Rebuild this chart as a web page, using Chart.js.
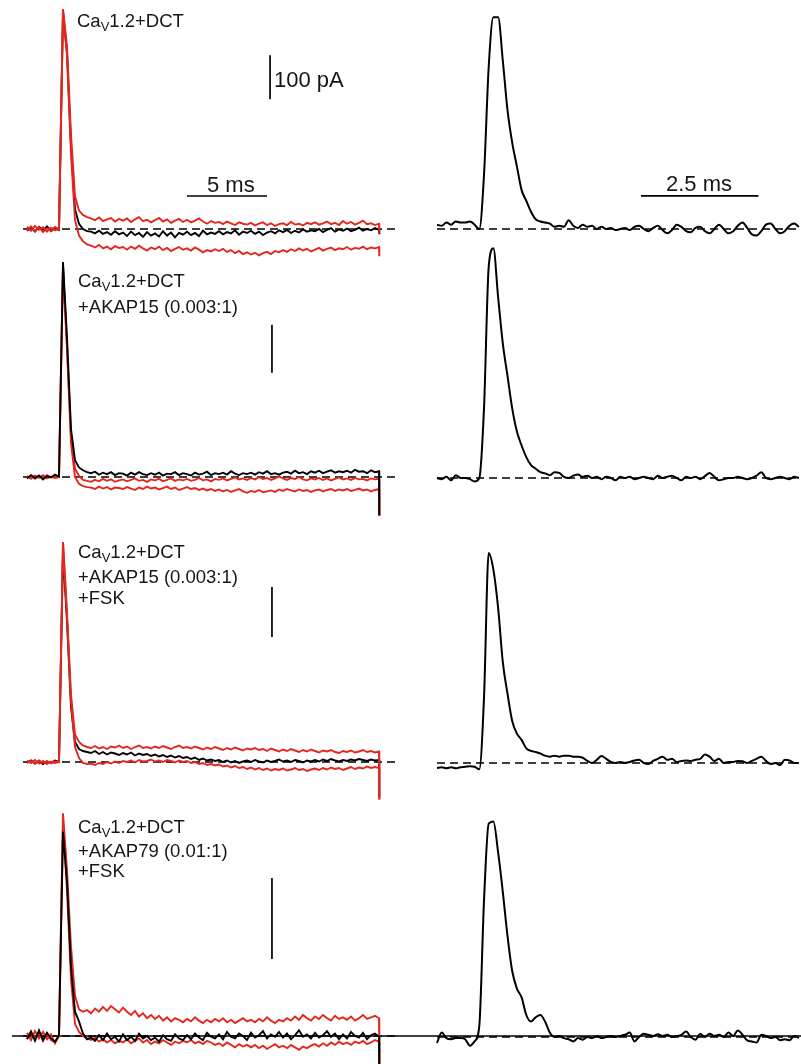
<!DOCTYPE html>
<html>
<head>
<meta charset="utf-8">
<script src="https://cdn.jsdelivr.net/npm/chart.js"></script>
<style>
  html, body { margin: 0; padding: 0; background: #fff; }
  #wrap { position: relative; width: 801px; height: 1064px; overflow: hidden; }
  #c { position: absolute; left: 0; top: 0; }
  .lab { position: absolute; font-family: "Liberation Sans", Arial, sans-serif; font-size: 18.5px; line-height: 18px; color: #161616; white-space: nowrap; }
  .lab sub { font-size: 13px; vertical-align: -4px; line-height: 0; }
  .sc { font-size: 22px; line-height: 21px; }
</style>
</head>
<body>
<div id="wrap">
  <canvas id="c" width="801" height="1064"></canvas>
  <div class="lab" style="left:77px;top:11.5px">Ca<sub>V</sub>1.2+DCT</div>
  <div class="lab sc" style="left:274px;top:68.5px">100 pA</div>
  <div class="lab sc" style="left:207px;top:173.5px">5 ms</div>
  <div class="lab sc" style="left:666px;top:172.5px">2.5 ms</div>

  <div class="lab" style="left:78px;top:272px">Ca<sub>V</sub>1.2+DCT</div>
  <div class="lab" style="left:78px;top:297.5px">+AKAP15 (0.003:1)</div>

  <div class="lab" style="left:78px;top:543px">Ca<sub>V</sub>1.2+DCT</div>
  <div class="lab" style="left:78px;top:568px">+AKAP15 (0.003:1)</div>
  <div class="lab" style="left:78px;top:589px">+FSK</div>

  <div class="lab" style="left:78px;top:818px">Ca<sub>V</sub>1.2+DCT</div>
  <div class="lab" style="left:78px;top:841.5px">+AKAP79 (0.01:1)</div>
  <div class="lab" style="left:78px;top:862px">+FSK</div>
</div>
<script>
// ---------------- DATA ----------------
// Left panels: sampled every 0.25 ms from 0 to 22 ms, last sample = tail at end of pulse (22.02 ms)
const tLeft = [];
for (let i = 0; i <= 88; i++) tLeft.push(i * 0.25);
tLeft.push(22.02);
// Right panels: sampled every 0.1 ms from 0 to 7.7 ms
const tRight = [];
for (let i = 0; i <= 77; i++) tRight.push(Math.round(i * 10) / 100);

// Row 1: CaV1.2+DCT  (pA)
const row1Black = [-4,3,-6,5,-3,6,-5,2, -2, 495,400,190,45,12,0,-5,
  -6,-10,-4,-11,-7,-13,-5,-12, -8,-16,-6,-14,-9,-18,-7,-15, -10,-17,-5,-15,-8,-19,-9,-13,
  -6,-14,-9,-16,-4,-12,-8,-11, -5,-12,-7,-10,-3,-13,-6,-9, -4,-11,-6,-14,-8,-5,-10,-3,
  -7,-2,-9,-4,-8,-1,-6,-3, -5,0,-7,-2,2,-6,-1,-4, 1,-5,-2,3,-4,0,-3,2,-2, -12];
const row1RedA = [5,-4,7,-2,4,-6,3,-3, 0, 500,415,215,75,42,32,27,
  24,20,26,18,22,25,17,23, 19,24,16,22,27,18,21,15, 20,25,17,22,14,19,23,16,
  21,15,19,24,17,12,18,14, 16,11,17,13,9,15,12,10, 14,8,12,15,9,13,7,11,
  13,9,16,10,12,8,14,11, 15,10,13,17,11,14,9,18, 12,16,10,14,19,11,13,9,12, -10];
const row1RedB = [-3,6,-5,4,-7,2,-4,5, 0, 490,395,170,20,-15,-28,-35,
  -38,-42,-36,-44,-40,-46,-39,-43, -41,-47,-40,-45,-38,-44,-49,-42, -46,-40,-48,-43,-50,-45,-41,-47,
  -44,-49,-42,-47,-53,-48,-51,-46, -50,-45,-52,-48,-55,-50,-57,-53, -58,-54,-60,-55,-52,-57,-50,-53,
  -48,-52,-46,-50,-44,-49,-45,-51, -47,-43,-49,-45,-42,-48,-44,-46, -41,-47,-43,-45,-40,-46,-42,-44,-41, -62];

// Row 2: +AKAP15 (0.003:1)
const row2Black = [-3,4,-2,3,-5,2,-1,5, 1, 448,290,100,35,20,14,10,
  8,11,5,9,6,10,4,8, 7,3,9,5,10,6,4,8, 5,9,3,7,6,10,4,8,
  6,3,9,5,7,11,4,8, 6,9,5,12,7,4,8,6, 9,5,10,7,12,6,8,5,
  9,11,7,13,8,10,6,12, 9,13,8,11,14,9,12,10, 13,9,15,11,12,8,14,10,12, -80];
const row2RedA = [2,-4,3,-2,4,-3,1,-2, 0, 440,275,85,18,2,-6,-8,
  -10,-6,-9,-4,-8,-5,-10,-7, -5,-9,-6,-3,-8,-6,-10,-5, -7,-4,-9,-6,-3,-8,-5,-7,
  -4,-8,-6,-2,-7,-5,-9,-4, -6,-3,-7,-4,-1,-5,-3,-6, -2,-5,0,-4,-2,-6,-3,1,
  -3,-6,-2,-4,0,-5,-7,-3, -5,-2,-6,-3,-7,-4,-1,-5, -3,-6,-2,-5,-4,-7,-3,-5,-4, -80];
const row2RedB = [-2,3,-4,2,-3,4,-1,3, 0, 436,265,70,0,-14,-19,-21,
  -22,-25,-20,-24,-21,-26,-22,-23, -25,-21,-24,-27,-22,-25,-20,-24, -22,-26,-23,-20,-25,-22,-27,-24,
  -21,-25,-23,-27,-24,-28,-25,-29, -26,-30,-27,-31,-28,-25,-30,-33, -29,-31,-27,-32,-30,-28,-31,-26,
  -29,-25,-28,-30,-26,-29,-27,-31, -28,-26,-30,-27,-25,-29,-26,-28, -25,-29,-27,-24,-28,-26,-30,-27,-25, -80];

// Row 3: +AKAP15 (0.003:1) +FSK
const row3Black = [-2,3,-3,2,-4,1,-2,3, 0, 420,280,110,40,26,22,20,
  18,22,16,20,15,19,17,14, 18,15,19,13,17,14,16,12, 15,11,14,10,13,9,12,8,
  10,6,9,4,7,3,5,2, 4,0,3,-1,2,-2,1,3, 0,4,1,-1,3,0,2,5,
  1,3,0,4,2,-1,3,1, 4,1,5,2,6,3,1,4, 2,5,3,6,4,2,5,3,4, -70];
const row3RedA = [3,-2,4,-3,2,-4,1,-2, 0, 440,300,135,55,40,33,30,
  28,32,27,30,26,31,29,33, 28,31,26,30,33,28,30,27, 31,28,32,29,26,30,33,28,
  30,27,31,28,25,29,26,30, 27,24,28,25,29,26,23,27, 25,28,24,26,22,27,24,21,
  25,22,26,23,20,24,21,25, 22,19,23,21,24,20,18,22, 20,23,19,21,24,20,22,19,21, -75];
const row3RedB = [-1,2,-3,3,-2,2,-3,1, 0, 438,290,120,30,8,-2,-4,
  -3,-6,-2,-4,0,-3,1,-2, 2,0,3,-1,4,1,2,5, 1,3,0,4,2,-1,3,0,
  2,-2,0,-4,-2,-6,-4,-7, -5,-9,-7,-11,-8,-12,-10,-14, -11,-15,-12,-16,-13,-17,-14,-16,
  -13,-17,-15,-12,-16,-14,-18,-15, -13,-16,-12,-15,-11,-14,-12,-16, -13,-10,-14,-11,-13,-9,-12,-10,-12, -75];

// Row 4: +AKAP79 (0.01:1) +FSK
const row4Black = [-4,5,-6,7,-5,4,-3,-7, 1, 252,190,85,30,18,3,-4,
  -2,-6,1,-5,3,-4,-1,-7, 2,-5,-1,-6,3,-3,0,-5, -2,-7,1,-4,-6,2,-3,-5,
  1,-4,3,-2,-5,4,-1,-3, 2,-4,5,-1,-3,3,0,-5, 4,-2,1,6,-3,2,-1,5,
  -2,3,-4,1,7,-1,2,-3, 4,-2,1,6,-1,3,-4,2, -3,5,0,-2,4,-4,1,3,-1, -40];
const row4RedA = [4,-5,6,-3,5,-4,2,-9, 0, 275,205,110,50,33,30,32,
  28,34,30,36,31,37,33,29, 35,30,26,31,24,28,22,26, 21,25,19,23,18,22,20,17,
  21,18,23,19,16,20,17,21, 18,22,17,20,16,19,22,18, 20,17,21,18,23,19,16,20,
  18,22,19,24,20,26,22,19, 24,21,26,22,19,25,21,23, 20,24,19,22,26,21,23,25,22, -40];
const row4RedB = [-3,6,-4,5,-6,3,-5,-8, 0, 265,180,70,15,5,0,-3,
  -5,-2,-7,-4,-8,-5,-9,-6, -8,-4,-9,-6,-3,-8,-5,-10, -7,-9,-5,-8,-11,-7,-9,-6,
  -8,-5,-9,-7,-10,-6,-8,-11, -9,-12,-8,-11,-14,-10,-13,-11, -14,-11,-15,-12,-16,-13,-10,-14,
  -12,-15,-11,-14,-17,-13,-15,-12, -10,-13,-9,-12,-8,-11,-7,-10, -8,-11,-7,-9,-6,-10,-8,-5,-7, -40];

// Right panels: black trace on expanded time base (normalized to peak)
const right1 = [0.02,0.015,0.03,0.02,0.035,0.03,0.03,0.035,0.02,0.0,
  0.25,0.75,0.98,0.98,0.78,0.55,0.40,0.29,0.18,0.13,
  0.08,0.045,0.035,0.03,0.025,0.01,0.015,0.01,0.04,0.015,
  0.005,0.02,0.01,0.015,0.0,0.01,0.0,0.005,-0.005,0.0,
  0.005,-0.005,0.01,0.015,0.0,-0.01,0.005,0.015,-0.005,-0.02,
  -0.005,0.02,0.01,-0.01,-0.015,0.005,0.01,-0.01,-0.02,0.0,
  0.02,0.0,-0.02,-0.01,0.015,0.03,0.005,-0.025,-0.03,-0.01,
  0.02,0.025,0.0,-0.02,-0.01,0.015,0.025,0.01];
const right2 = [0.0,-0.005,0.005,-0.01,0.012,0.0,0.0,-0.005,-0.015,0.0,
  0.30,0.91,0.99,0.78,0.58,0.44,0.30,0.20,0.14,0.09,
  0.055,0.04,0.025,0.02,0.012,0.025,0.022,0.005,0.0,0.01,
  0.015,0.005,0.01,0.0,0.005,-0.005,0.005,0.0,-0.01,0.005,
  0.0,0.005,-0.005,0.0,0.005,0.0,-0.005,0.01,0.0,0.005,
  0.01,0.0,-0.01,0.005,0.0,0.005,-0.005,0.008,0.022,0.005,
  -0.01,-0.005,0.0,0.0,0.005,0.0,-0.005,0.0,0.01,0.025,
  0.0,-0.005,0.0,0.005,0.0,-0.005,0.005,0.0];
const right3 = [-0.024,-0.02,-0.025,-0.02,-0.025,-0.02,-0.018,-0.015,-0.018,-0.03,
  0.31,1.0,0.92,0.74,0.48,0.33,0.20,0.14,0.11,0.07,
  0.058,0.052,0.045,0.035,0.03,0.035,0.03,0.035,0.035,0.03,
  0.03,0.025,0.01,0.0,0.015,0.033,0.02,0.005,0.0,0.005,
  0.0,0.005,0.012,0.015,0.0,-0.005,0.01,0.02,0.03,0.015,
  0.02,0.005,0.01,0.012,0.01,0.015,0.02,0.04,0.03,0.01,
  0.02,0.0,0.005,0.005,0.01,0.008,0.0,0.01,0.02,0.03,
  0.01,-0.005,0.0,-0.01,0.015,0.012,0.0,0.0];
const right4 = [-0.027,0.02,-0.005,-0.01,-0.005,-0.005,-0.01,-0.04,-0.02,0.05,
  0.62,0.97,0.98,0.84,0.66,0.46,0.30,0.22,0.18,0.10,
  0.07,0.09,0.10,0.07,0.02,0.0,0.005,-0.005,-0.01,-0.02,
  -0.005,-0.012,0.0,-0.005,0.005,-0.005,0.0,0.005,0.0,0.005,
  0.01,0.02,-0.02,0.0,0.015,0.01,0.005,0.012,0.005,0.01,
  0.0,0.005,0.01,0.025,0.0,-0.012,0.015,0.0,0.015,0.005,
  0.01,0.0,0.02,0.005,0.03,0.01,-0.015,-0.02,-0.025,0.01,
  0.005,-0.005,0.0,-0.015,-0.01,-0.015,0.005,-0.005];

// Scale bars (data units)
const barTimeLeft = [10, 15];          // 5 ms
const barTimeLeftLevel = 75;           // pA, row 1
const barCurrent = [[295, 395], [217, 317], [250, 350], [95, 195]]; // 100 pA per row
const barCurrentTime = [15.19, 15.31, 15.31, 15.31];                 // ms
const barTimeRight = [4.34, 6.84];     // 2.5 ms
const barTimeRightLevel = 0.153;
const baseLeftSpan = [-0.25, 23];
const baseRightSpan = [0, 7.75];
const axisLineRow4 = [-0.94, 48.4];

// ---------------- LAYOUT (pixel mapping of each hidden scale) ----------------
const W = 801, H = 1064;
const xLeftMap = { px0: 27, pxPerUnit: 16 };     // ms
const xRightMap = { px0: 437, pxPerUnit: 47 };   // ms
const yLeftMaps = [ {base: 229, s: 0.44}, {base: 477, s: 0.48}, {base: 762, s: 0.5}, {base: 1036, s: 0.81} ];
const yRightMaps = [ {base: 229, s: 216}, {base: 478, s: 232}, {base: 763, s: 210}, {base: 1037, s: 220} ];

function xRange(m) { return { min: -m.px0 / m.pxPerUnit, max: (W - m.px0) / m.pxPerUnit }; }
function yRange(m) { return { min: (m.base - H) / m.s, max: m.base / m.s }; }

const RED = '#e4261f', BLACK = '#000000';

function pts(t, v) { return v.map((y, i) => ({ x: t[i], y: y })); }
function trace(t, v, xa, ya, color, w, smooth) {
  return { data: pts(t, v), xAxisID: xa, yAxisID: ya, borderColor: color, borderWidth: w,
    pointRadius: 0, fill: false, tension: 0, cubicInterpolationMode: smooth ? 'monotone' : 'default' };
}
function seg(p, xa, ya, w, dash) {
  return { data: p, xAxisID: xa, yAxisID: ya, borderColor: BLACK, borderWidth: w,
    borderDash: dash || [], pointRadius: 0, fill: false, tension: 0 };
}

const leftRows = [
  { k: row1Black, a: row1RedA, b: row1RedB, redTop: true },
  { k: row2Black, a: row2RedA, b: row2RedB, redTop: false },
  { k: row3Black, a: row3RedA, b: row3RedB, redTop: true },
  { k: row4Black, a: row4RedA, b: row4RedB, redTop: false }
];
const rightRows = [right1, right2, right3, right4];

// build back-to-front
const back2front = [];
leftRows.forEach((r, i) => {
  const ya = 'yL' + (i + 1);
  back2front.push(seg([{x: baseLeftSpan[0], y: 0}, {x: baseLeftSpan[1], y: 0}], 'xL', ya, 1.6, [8, 5]));
  if (i === 3) back2front.push(seg([{x: axisLineRow4[0], y: 0}, {x: axisLineRow4[1], y: 0}], 'xL', ya, 1.5));
  const k = trace(tLeft, r.k, 'xL', ya, BLACK, 1.9, false);
  const a = trace(tLeft, r.a, 'xL', ya, RED, 1.9, false);
  const b = trace(tLeft, r.b, 'xL', ya, RED, 1.9, false);
  if (r.redTop) { back2front.push(k, b, a); } else { back2front.push(b, a, k); }
  back2front.push(seg([{x: barCurrentTime[i], y: barCurrent[i][0]}, {x: barCurrentTime[i], y: barCurrent[i][1]}], 'xL', ya, 1.7));
});
back2front.push(seg([{x: barTimeLeft[0], y: barTimeLeftLevel}, {x: barTimeLeft[1], y: barTimeLeftLevel}], 'xL', 'yL1', 1.7));

rightRows.forEach((v, i) => {
  const ya = 'yR' + (i + 1);
  back2front.push(seg([{x: baseRightSpan[0], y: 0}, {x: baseRightSpan[1], y: 0}], 'xR', ya, 1.6, [8, 5]));
  back2front.push(trace(tRight, v, 'xR', ya, BLACK, 2, true));
});
back2front.push(seg([{x: barTimeRight[0], y: barTimeRightLevel}, {x: barTimeRight[1], y: barTimeRightLevel}], 'xR', 'yR1', 1.7));

const datasets = back2front.slice().reverse();

const scales = {
  xL: Object.assign({ type: 'linear', display: false, axis: 'x' }, xRange(xLeftMap)),
  xR: Object.assign({ type: 'linear', display: false, axis: 'x' }, xRange(xRightMap))
};
yLeftMaps.forEach((m, i) => { scales['yL' + (i + 1)] = Object.assign({ type: 'linear', display: false, axis: 'y' }, yRange(m)); });
yRightMaps.forEach((m, i) => { scales['yR' + (i + 1)] = Object.assign({ type: 'linear', display: false, axis: 'y' }, yRange(m)); });

new Chart(document.getElementById('c'), {
  type: 'line',
  data: { datasets: datasets },
  options: {
    responsive: false,
    animation: false,
    devicePixelRatio: 1,
    layout: { padding: 0 },
    events: [],
    plugins: { legend: { display: false }, tooltip: { enabled: false } },
    scales: scales
  }
});
</script>
</body>
</html>
